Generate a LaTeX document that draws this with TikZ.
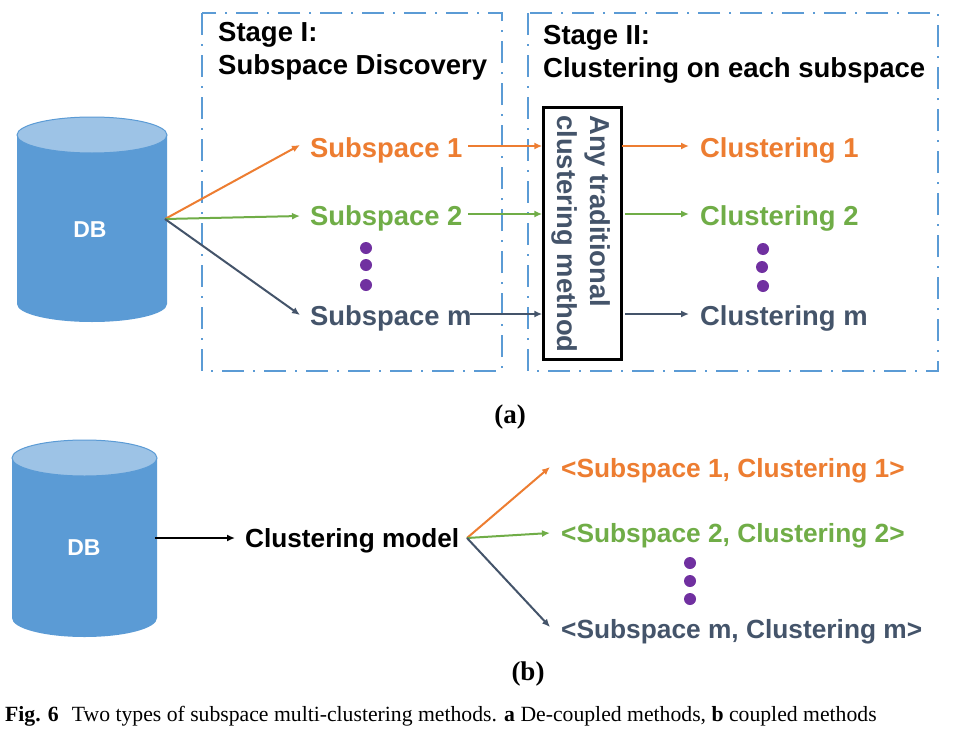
\documentclass[tikz,border=0pt]{standalone}
\usepackage{fontspec}
\setmainfont{Liberation Serif}
\setsansfont{Liberation Sans}
\usetikzlibrary{arrows.meta}
\definecolor{cblue}{HTML}{5B9BD5}
\definecolor{ctop}{HTML}{9DC3E6}
\definecolor{corange}{HTML}{ED7D31}
\definecolor{cgreen}{HTML}{70AD47}
\definecolor{cslate}{HTML}{44546A}
\definecolor{cpurple}{HTML}{7030A0}
\tikzset{
  x=1pt,y=-1pt,
  stagebox/.style={draw=cblue,line width=1.5pt,dash pattern=on 22pt off 9pt on 2pt off 9pt},
  lbl/.style={font=\sffamily\bfseries\fontsize{27.4}{30}\selectfont,inner sep=0pt,anchor=base west},
  lblb/.style={font=\sffamily\bfseries\fontsize{26.3}{28}\selectfont,inner sep=0pt,anchor=base west},
  head/.style={font=\sffamily\bfseries\fontsize{27.5}{33}\selectfont,inner sep=0pt,anchor=north west,align=left,text=black},
  dbtxt/.style={font=\sffamily\bfseries\fontsize{23}{26}\selectfont,text=white,inner sep=0pt},
  conn/.style={line width=2pt,-{Latex[length=8pt,width=7pt]}},
  dot/.style={circle,fill=cpurple,inner sep=0pt,minimum size=12pt}
}
\begin{document}
\begin{tikzpicture}
\useasboundingbox (0,0) rectangle (967,731);
\fill[white] (0,0) rectangle (967,731);
% stage boxes
\draw[stagebox] (202,13) rectangle (502,371);
\draw[stagebox] (528,13) rectangle (938,371);
\node[head] (s1) at (218,22) {Stage I:\\Subspace Discovery};
\node[head] (s2) at (543,25) {Stage II:\\Clustering on each subspace};
% DB top
\fill[cblue] (17,135) -- (17,304) arc[start angle=180,end angle=0,x radius=75,y radius=18] -- (167,135) -- cycle;
\fill[ctop,draw=cblue,line width=1pt] (92,135) ellipse[x radius=75,y radius=18];
\node[dbtxt] (db1) at (90,230) {DB};
\coordinate (out1) at (165,219);
% subspaces
\node[lbl,text=corange] (a1) at (310,157) {Subspace 1};
\node[lbl,text=cgreen] (a2) at (310,225.5) {Subspace 2};
\node[lbl,text=cslate] (a3) at (310,325) {Subspace m};
\node[dot] (d1) at (366,248) {};
\node[dot] (d2) at (366,265) {};
\node[dot] (d3) at (366,285) {};
% method box
\node[draw=black,line width=2.5pt,minimum width=78pt,minimum height=252pt,inner sep=0pt] (box) at (582.5,233.5) {};
\node[rotate=-90,font=\sffamily\bfseries\fontsize{27.4}{33}\selectfont,text=cslate,inner sep=0pt,align=left,anchor=center] (boxt) at (581,234) {Any traditional\\clustering method};
% clusterings
\node[lbl,text=corange] (c1) at (700,157) {Clustering 1};
\node[lbl,text=cgreen] (c2) at (700,225.5) {Clustering 2};
\node[lbl,text=cslate] (c3) at (700,325) {Clustering m};
\node[dot] (e1) at (763,249) {};
\node[dot] (e2) at (762,267) {};
\node[dot] (e3) at (763,286) {};
% connectors (a)
\draw[conn,corange] (out1) -- ([shift={(-10,-12)}]a1.base west);
\draw[conn,cgreen] (out1) -- ([shift={(-10,-9.5)}]a2.base west);
\draw[conn,cslate] (out1) -- ([shift={(-10,-10)}]a3.base west);
\coordinate (i1) at (468,146);
\coordinate (i2) at (468,214);
\coordinate (i3) at (470,314);
\draw[conn,corange] (i1) -- (i1 -| box.west);
\draw[conn,cgreen] (i2) -- (i2 -| box.west);
\draw[conn,cslate] (i3) -- (i3 -| box.west);
\coordinate (o1) at (622,146);
\coordinate (o2) at (625,214);
\coordinate (o3) at (625,314);
\draw[conn,corange] (o1) -- ([xshift=-11pt]o1 -| c1.west);
\draw[conn,cgreen] (o2) -- ([xshift=-11pt]o2 -| c2.west);
\draw[conn,cslate] (o3) -- ([xshift=-11pt]o3 -| c3.west);
\node[font=\bfseries\fontsize{27}{28}\selectfont,inner sep=0pt] (la) at (510,417) {(a)};
% DB bottom
\fill[cblue] (12,458) -- (12,618) arc[start angle=180,end angle=0,x radius=72.5,y radius=19] -- (157,458) -- cycle;
\fill[ctop,draw=cblue,line width=1pt] (84.5,458) ellipse[x radius=72.5,y radius=18];
\node[dbtxt] (db2) at (84,548) {DB};
\coordinate (out2) at (155,538);
\node[font=\sffamily\bfseries\fontsize{26.2}{28}\selectfont,inner sep=0pt,anchor=base west,text=black] (cm) at (245,547) {Clustering model};
\coordinate (fan) at (467,538);
\node[lblb,text=corange] (b1) at (561,477) {<Subspace 1, Clustering 1>};
\node[lblb,text=cgreen] (b2) at (561,542) {<Subspace 2, Clustering 2>};
\node[lblb,text=cslate] (b3) at (561,638) {<Subspace m, Clustering m>};
\node[dot] (f1) at (690,563) {};
\node[dot] (f2) at (690,581) {};
\node[dot] (f3) at (690,599) {};
\draw[conn,black] (out2) -- ([xshift=-10pt]out2 -| cm.west);
\draw[conn,corange] (fan) -- ([shift={(-11,-10)}]b1.base west);
\draw[conn,cgreen] (fan) -- ([shift={(-11,-9)}]b2.base west);
\draw[conn,cslate] (fan) -- ([shift={(-11,-11)}]b3.base west);
\node[font=\bfseries\fontsize{27}{28}\selectfont,inner sep=0pt] (lb) at (528,674) {(b)};
\node[font=\fontsize{21.7}{23}\selectfont,inner sep=0pt,anchor=west] (cap) at (5,716) {\textbf{Fig. 6}\hspace{13pt}Two types of subspace multi-clustering methods. \textbf{a} De-coupled methods, \textbf{b} coupled methods};
\end{tikzpicture}
\end{document}
